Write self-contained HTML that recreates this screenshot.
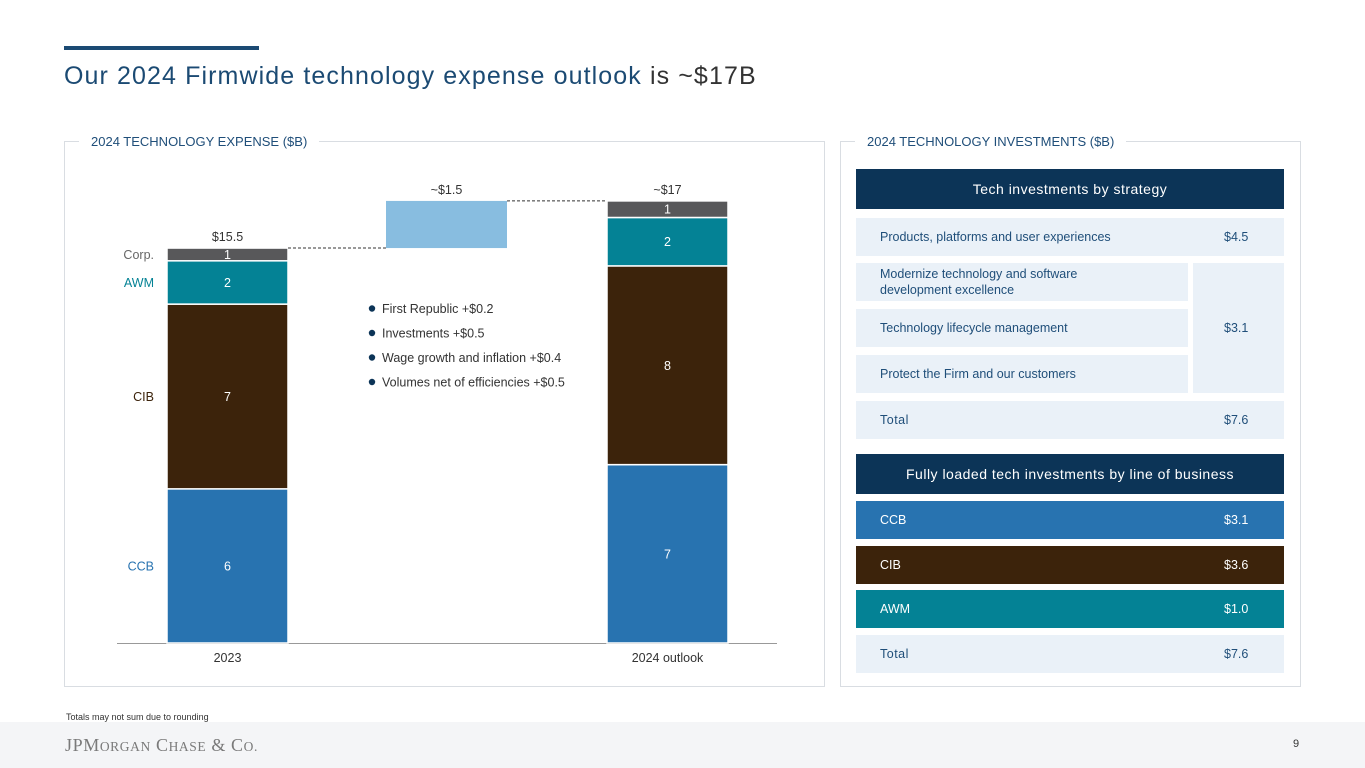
<!DOCTYPE html>
<html><head><meta charset="utf-8">
<style>
*{margin:0;padding:0;box-sizing:border-box}
body{width:1365px;height:768px;position:relative;background:#fff;font-family:"Liberation Sans",sans-serif;overflow:hidden}
.abs{position:absolute}
.panel{position:absolute;border:1px solid #d9dde2}
.ptitle{position:absolute;background:#fff;padding:0 12px;font-size:13px;color:#1f4e79;top:-8px}
.row{position:absolute;background:#eaf1f8;color:#1f4e79;font-size:12.5px;display:flex;align-items:center;padding-left:24px}
.val{position:absolute;color:#1f4e79;font-size:12.5px}
.hdr{position:absolute;background:#0c3457;color:#fff;font-size:14px;letter-spacing:0.5px;display:flex;align-items:center;justify-content:center}
.lob{position:absolute;color:#fff;font-size:12.5px;display:flex;align-items:center;padding-left:24px}
</style></head><body>
<div class="abs" style="left:64px;top:46px;width:195px;height:4px;background:#1b4a73"></div>
<div class="abs" style="left:64px;top:62px;font-size:25px;color:#1b4a73;letter-spacing:1.1px;white-space:nowrap">Our <span style="color:#1b4a73">2024 Firmwide technology expense outlook</span> <span style="color:#333">is ~$17B</span></div>

<div class="panel" style="left:64px;top:141px;width:761px;height:546px">
 <div class="ptitle" style="left:14px">2024 TECHNOLOGY EXPENSE ($B)</div>
</div>
<svg class="abs" id="chart" style="left:0;top:0" width="840" height="700"></svg>

<div class="panel" style="left:840px;top:141px;width:461px;height:546px">
 <div class="ptitle" style="left:14px">2024 TECHNOLOGY INVESTMENTS ($B)</div>
</div>
<div class="hdr" style="left:856px;top:169px;width:428px;height:40px">Tech investments by strategy</div>
<div class="row" style="left:856px;top:218px;width:428px;height:38px">Products, platforms and user experiences</div>
<div class="val" style="left:1224px;top:230px">$4.5</div>
<div class="row" style="left:856px;top:263px;width:332px;height:38px;line-height:16px">Modernize technology and software<br>development excellence</div>
<div class="row" style="left:856px;top:309px;width:332px;height:38px">Technology lifecycle management</div>
<div class="row" style="left:856px;top:355px;width:332px;height:38px">Protect the Firm and our customers</div>
<div class="row" style="left:1193px;top:263px;width:91px;height:130px;padding-left:31px">$3.1</div>
<div class="row" style="left:856px;top:401px;width:428px;height:38px;letter-spacing:0.5px">Total</div>
<div class="val" style="left:1224px;top:413px">$7.6</div>

<div class="hdr" style="left:856px;top:454px;width:428px;height:40px">Fully loaded tech investments by line of business</div>
<div class="lob" style="left:856px;top:501px;width:428px;height:38px;background:#2873b0">CCB<span style="position:absolute;left:368px">$3.1</span></div>
<div class="lob" style="left:856px;top:546px;width:428px;height:38px;background:#3c230b">CIB<span style="position:absolute;left:368px">$3.6</span></div>
<div class="lob" style="left:856px;top:590px;width:428px;height:38px;background:#048295">AWM<span style="position:absolute;left:368px">$1.0</span></div>
<div class="row" style="left:856px;top:635px;width:428px;height:38px;letter-spacing:0.5px">Total<span style="position:absolute;left:368px;letter-spacing:0">$7.6</span></div>

<div class="abs" style="left:66px;top:712px;font-size:9px;color:#333">Totals may not sum due to rounding</div>
<div class="abs" style="left:0;top:722px;width:1365px;height:46px;background:#f4f5f7"></div>
<div class="abs" style="left:65px;top:735px;font-family:'Liberation Serif',serif;font-size:18px;color:#7a7a7a;letter-spacing:0.6px;white-space:nowrap">JPM<span style="font-size:13.5px">ORGAN</span> C<span style="font-size:13.5px">HASE</span> &amp; C<span style="font-size:13.5px">O.</span></div>
<div class="abs" style="left:1293px;top:738px;font-size:11px;color:#333">9</div>

<script>
const categories=["2023","2024 outlook"];
const segments=["CCB","CIB","AWM","Corp."];
const values2023=[6.05,7.25,1.7,0.5];
const values2024=[7.0,7.8,1.9,0.65];
const segLabels2023=["6","7","2","1"];
const segLabels2024=["7","8","2","1"];
const totalLabels=["$15.5","~$17"];
const deltaLabel="~$1.5";
const bullets=["First Republic +$0.2","Investments +$0.5","Wage growth and inflation +$0.4","Volumes net of efficiencies +$0.5"];
const colors=["#2873b0","#3c230b","#048295","#58585a"];
const segTextColors=["#2873b0","#3c230b","#048295","#666"];

const svg=document.getElementById('chart');
const NS="http://www.w3.org/2000/svg";
const baseY=643, pxPer=25.48;
const y=v=>baseY-v*pxPer;
const barX=[167,607], barW=121, deltaX=386;
function mk(tag,attrs,txt){const e=document.createElementNS(NS,tag);for(const k in attrs)e.setAttribute(k,attrs[k]);if(txt!==undefined)e.textContent=txt;svg.appendChild(e);return e;}
const axis=mk('line',{x1:117,x2:777,y1:baseY+0.5,y2:baseY+0.5,stroke:'#999','stroke-width':1});


const series=[values2023,values2024],labs=[segLabels2023,segLabels2024];
const totals=[];
series.forEach((vals,bi)=>{
  let cum=0;
  vals.forEach((v,si)=>{
    const r=mk('rect',{x:barX[bi],y:y(cum+v),width:barW,height:v*pxPer,fill:colors[si],stroke:'#fff','stroke-width':1.5});
    
    
    const t=mk('text',{x:barX[bi]+barW/2,y:y(cum+v/2)+4.5,'text-anchor':'middle','font-size':12.5,fill:'#fff'},labs[bi][si]);
    
    
    cum+=v;
  });
  totals.push(cum);
  const tl=mk('text',{x:barX[bi]+barW/2,y:y(cum)-7,'text-anchor':'middle','font-size':12.5,fill:'#333'},totalLabels[bi]);
  
  
  const cl=mk('text',{x:barX[bi]+barW/2,y:662,'text-anchor':'middle','font-size':12.5,fill:'#333'},categories[bi]);
  
  
});
let c=0;
values2023.forEach((v,si)=>{
  const t=mk('text',{x:154,y:y(c+v/2)+4.5,'text-anchor':'end','font-size':12.5,fill:segTextColors[si]},segments[si]);
  
  
  c+=v;
});
const d=mk('rect',{x:deltaX,y:y(totals[1]),width:barW,height:(totals[1]-totals[0])*pxPer,fill:'#88bde0'});


const dl=mk('text',{x:deltaX+barW/2,y:y(totals[1])-7,'text-anchor':'middle','font-size':12.5,fill:'#333'},deltaLabel);


const c1=mk('line',{x1:barX[0]+barW,x2:deltaX,y1:y(totals[0]),y2:y(totals[0]),stroke:'#333','stroke-dasharray':'3,2'});


const c2=mk('line',{x1:deltaX+barW,x2:barX[1],y1:y(totals[1]),y2:y(totals[1]),stroke:'#333','stroke-dasharray':'3,2'});


bullets.forEach((b,i)=>{
  const cy=309+i*24.5;
  const dot=mk('circle',{cx:372,cy:cy-0.5,r:3.2,fill:'#0c3457'});
  
  
  const t=mk('text',{x:382,y:cy+4,'font-size':12.5,fill:'#333'},b);
  
  
});
</script>
</body></html>
